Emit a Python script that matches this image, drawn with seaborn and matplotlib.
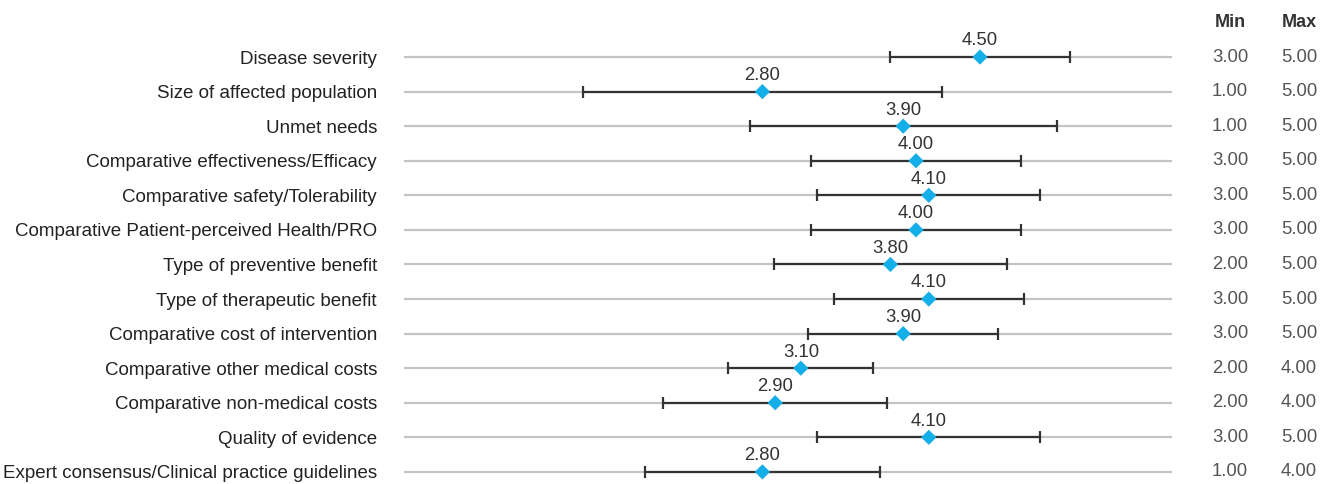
import matplotlib
matplotlib.use("Agg")
import matplotlib.pyplot as plt
import matplotlib.transforms as mtransforms
import seaborn as sns
import pandas as pd
import numpy as np

criteria = [
    "Disease severity",
    "Size of affected population",
    "Unmet needs",
    "Comparative effectiveness/Efficacy",
    "Comparative safety/Tolerability",
    "Comparative Patient-perceived Health/PRO",
    "Type of preventive benefit",
    "Type of therapeutic benefit",
    "Comparative cost of intervention",
    "Comparative other medical costs",
    "Comparative non-medical costs",
    "Quality of evidence",
    "Expert consensus/Clinical practice guidelines",
]
mean_scores = [4.5, 2.8, 3.9, 4.0, 4.1, 4.0, 3.8, 4.1, 3.9, 3.1, 2.9, 4.1, 2.8]
sd_scores = [0.7, 1.4, 1.2, 0.82, 0.87, 0.82, 0.91, 0.74, 0.74, 0.565, 0.875, 0.87, 0.92]
min_scores = [3, 1, 1, 3, 3, 3, 2, 3, 3, 2, 2, 3, 1]
max_scores = [5, 5, 5, 5, 5, 5, 5, 5, 5, 4, 4, 5, 4]

df = pd.DataFrame({
    "criterion": criteria,
    "mean": mean_scores,
    "sd": sd_scores,
    "min": min_scores,
    "max": max_scores,
})
df["row"] = np.arange(len(df))

sns.set_theme(style="white")
plt.rcParams["font.family"] = ["Liberation Sans", "DejaVu Sans"]

fig = plt.figure(figsize=(13.31, 4.84), dpi=100)
ax = fig.add_axes([404 / 1331, 0, (1172 - 404) / 1331, 1])

# gray guide line per row
for r in df["row"]:
    ax.axhline(r, color="#c4c4c4", lw=1.6, zorder=0)

ax.errorbar(df["mean"], df["row"], xerr=df["sd"], fmt="none",
            ecolor="#333333", elinewidth=1.6, capsize=4, capthick=1.6, zorder=2)
sns.scatterplot(data=df, x="mean", y="row", marker="D", s=60,
                color="#14aee8", edgecolor="none", ax=ax, zorder=3)

for _, r in df.iterrows():
    ax.text(r["mean"], r["row"] - 0.22, f"{r['mean']:.2f}", ha="center", va="bottom",
            fontsize=13.3, color="#333333")

ax.set_xlim(0, 6)
ax.set_ylim(12.35, -1.65)
ax.set_yticks(df["row"])
ax.set_yticklabels(df["criterion"], fontsize=13.5, color="#222222")
ax.tick_params(axis="y", length=0, pad=19.5)
ax.set_xticks([])
ax.set_xlabel("")
ax.set_ylabel("")
sns.despine(ax=ax, left=True, bottom=True)

# Min / Max columns on the right
trans = mtransforms.blended_transform_factory(fig.transFigure, ax.transData)
min_x = 1230 / 1331
max_x = 1299 / 1331
ax.text(min_x, -1.01, "Min", transform=trans, ha="center", va="center",
        fontsize=13, fontweight="bold", color="#333333")
ax.text(max_x, -1.01, "Max", transform=trans, ha="center", va="center",
        fontsize=13, fontweight="bold", color="#333333")
for _, r in df.iterrows():
    ax.text(min_x, r["row"], f"{r['min']:.2f}", transform=trans, ha="center",
            va="center", fontsize=13.3, color="#555555")
    ax.text(max_x, r["row"], f"{r['max']:.2f}", transform=trans, ha="center",
            va="center", fontsize=13.3, color="#555555")

fig.savefig("out.png", dpi=100)
